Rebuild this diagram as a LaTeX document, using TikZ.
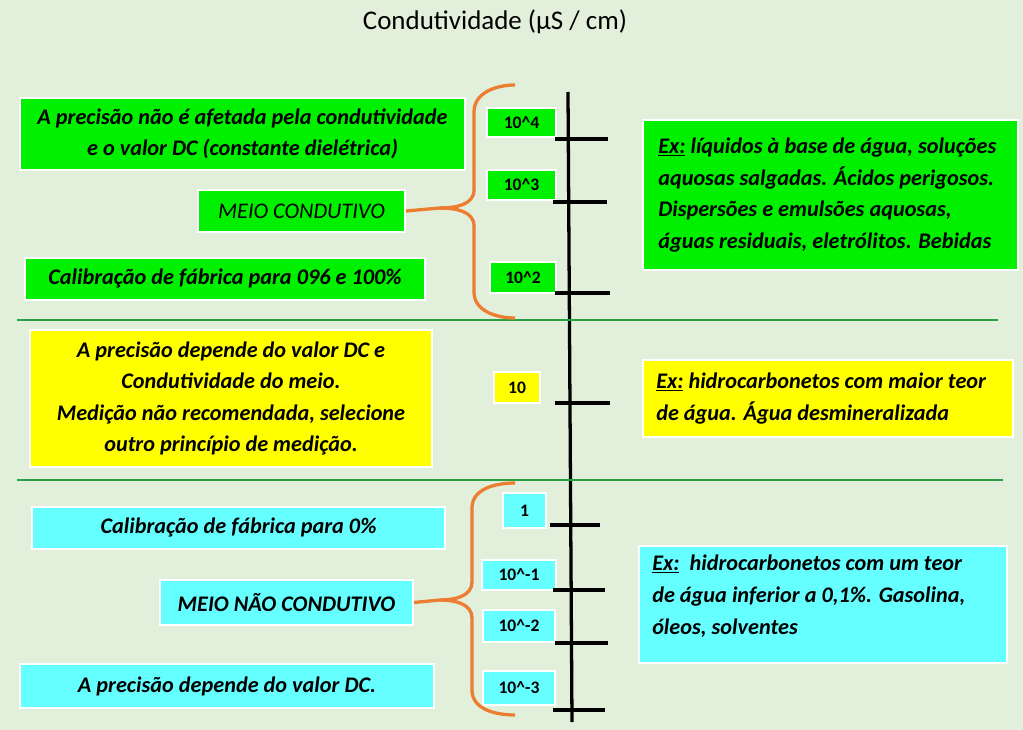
\documentclass[tikz,border=0pt]{standalone}
\usepackage{fontspec}
\setmainfont{Carlito}
\usetikzlibrary{positioning}
\definecolor{bgc}{RGB}{226,239,218}
\definecolor{boxgreen}{RGB}{0,240,0}
\definecolor{boxyellow}{RGB}{255,255,0}
\definecolor{boxcyan}{RGB}{102,255,255}
\definecolor{sepgreen}{RGB}{40,160,70}
\definecolor{braceorange}{RGB}{237,125,49}
\def\u{0.03cm}
\tikzset{
  box/.style={draw=white, line width=1.5pt, inner sep=0pt, align=center,
    font=\fontsize{19}{27}\selectfont\bfseries\itshape},
  gbox/.style={box, fill=boxgreen},
  ybox/.style={box, fill=boxyellow},
  cbox/.style={box, fill=boxcyan},
  info/.style={align=left, font=\fontsize{19}{27}\selectfont\bfseries\itshape},
  tag/.style={draw=white, line width=1.2pt, inner sep=0pt, font=\fontsize{15}{17}\selectfont\bfseries},
  tickline/.style={line width=2.8pt},
  brace/.style={braceorange, line width=2.8pt},
  sep/.style={sepgreen, line width=2pt}
}
\begin{document}
\begin{tikzpicture}[x=\u, y=-\u]
    \useasboundingbox[fill=bgc] (0,0) rectangle (1023,730);
    \node[font=\fontsize{23}{26}\selectfont] (title) at (495,22) {Condutividade (µS / cm)};

    % Meio condutivo
    \node[gbox, minimum width=445*\u, minimum height=72*\u] (prec1) at (242.5,134)
      {A precisão não é afetada pela condutividade\\e o valor DC (constante dielétrica)};
    \node[gbox, minimum width=207*\u, minimum height=42*\u, font=\fontsize{19}{23}\selectfont\itshape] (cond) at (301.5,211) {MEIO CONDUTIVO};
    \node[gbox, minimum width=400*\u, minimum height=42*\u] (calib1) at (225,279) {Calibração de fábrica para 096 e 100\%};
    \node[gbox, minimum width=375*\u, minimum height=150*\u] (ex1) at (830.5,195) {};
    \node[info, anchor=west] at ([xshift=12*\u]ex1.west)
      {\underline{Ex:} líquidos à base de água, soluções\\aquosas salgadas. Ácidos perigosos.\\Dispersões e emulsões aquosas,\\águas residuais, eletrólitos. Bebidas};

    % Zona intermedia
    \node[ybox, minimum width=402*\u, minimum height=137*\u] (prec2) at (231,398.5)
      {A precisão depende do valor DC e\\Condutividade do meio.\\Medição não recomendada, selecione\\outro princípio de medição.};
    \node[ybox, minimum width=370*\u, minimum height=77*\u] (ex2) at (828,398.5) {};
    \node[info, anchor=west] at ([xshift=10*\u]ex2.west)
      {\underline{Ex:} hidrocarbonetos com maior teor\\de água. Água desmineralizada};

    % Meio nao condutivo
    \node[cbox, minimum width=413*\u, minimum height=42*\u] (calib2) at (238.5,528) {Calibração de fábrica para 0\%};
    \node[cbox, minimum width=253*\u, minimum height=45*\u] (ncond) at (286.5,602.5) {MEIO NÃO CONDUTIVO};
    \node[cbox, minimum width=414*\u, minimum height=44*\u] (prec3) at (227,686) {A precisão depende do valor DC.};
    \node[cbox, minimum width=368*\u, minimum height=117*\u] (ex3) at (823,604.5) {};
    \node[info, anchor=north west] at ([xshift=10*\u,yshift=-6*\u]ex3.north west)
      {\underline{Ex:}\ \ hidrocarbonetos com um teor\\de água inferior a 0,1\%. Gasolina,\\óleos, solventes};

    % Escala
    \node[tag, fill=boxgreen, minimum width=69*\u, minimum height=29*\u] (e4) at (521.5,122.5) {10\textasciicircum 4};
    \node[tag, fill=boxgreen, minimum width=69*\u, minimum height=30*\u] (e3) at (521.5,185) {10\textasciicircum 3};
    \node[tag, fill=boxgreen, minimum width=66*\u, minimum height=31*\u] (e2) at (523,277.5) {10\textasciicircum 2};
    \node[tag, fill=boxyellow, minimum width=46*\u, minimum height=31*\u] (e1) at (517,387.5) {10};
    \node[tag, fill=boxcyan, minimum width=43*\u, minimum height=35*\u] (e0) at (524.5,510.5) {1};
    \node[tag, fill=boxcyan, minimum width=74*\u, minimum height=30*\u] (em1) at (519,575) {10\textasciicircum -1};
    \node[tag, fill=boxcyan, minimum width=72*\u, minimum height=32*\u] (em2) at (519,626) {10\textasciicircum -2};
    \node[tag, fill=boxcyan, minimum width=72*\u, minimum height=34*\u] (em3) at (519,688) {10\textasciicircum -3};

    \coordinate (axtop) at (568,92);
    \coordinate (axbot) at (572,722);
    \draw[tickline] (axtop) -- (axbot);
    \foreach \y/\a/\b in {139/555/608, 202/553/607, 293/555/610, 403/555/610,
                          525/550/600, 590/553/605, 643/555/608, 710/553/605}
      \draw[tickline] (\a,\y) -- (\b,\y);

    % separadores
    \draw[sep] (17,320) -- (998,320);
    \draw[sep] (17,480) -- (1003,480);

    % chavetas
    \coordinate (b1top) at (515,85);
    \coordinate (b1bot) at (515,318);
    \draw[brace] (b1top) to[out=180,in=90] (474,112) -- (474,190)
      to[out=-90,in=0] (440,208) -- (cond.east);
    \draw[brace] (440,208) to[out=0,in=90] (474,226) -- (474,292) to[out=-90,in=180] (b1bot);
    \coordinate (b2top) at (515,483);
    \coordinate (b2bot) at (515,715);
    \draw[brace] (b2top) to[out=180,in=90] (472,508) -- (472,582)
      to[out=-90,in=0] (440,600) -- (ncond.east);
    \draw[brace] (440,600) to[out=0,in=90] (472,618) -- (472,690) to[out=-90,in=180] (b2bot);
\end{tikzpicture}
\end{document}
